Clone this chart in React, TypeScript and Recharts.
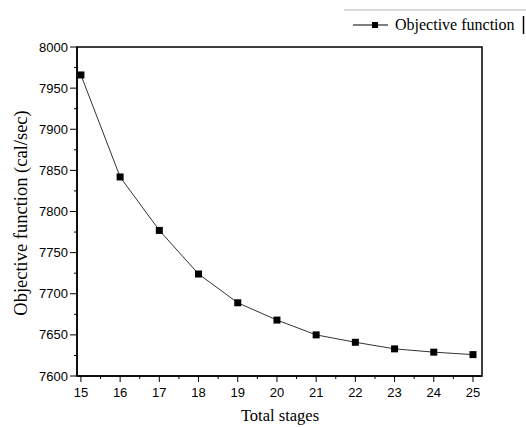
import React from "react";
import { LineChart, Line, XAxis, YAxis, Legend, ReferenceArea } from "recharts";

const stages = [15, 16, 17, 18, 19, 20, 21, 22, 23, 24, 25];
const objective = [7966, 7842, 7777, 7724, 7689, 7668, 7650, 7641, 7633, 7629, 7626];

const xMajorTicks = [15, 16, 17, 18, 19, 20, 21, 22, 23, 24, 25];
const xMinorTicks = [15.5, 16.5, 17.5, 18.5, 19.5, 20.5, 21.5, 22.5, 23.5, 24.5];
const yMajorTicks = [7600, 7650, 7700, 7750, 7800, 7850, 7900, 7950, 8000];
const yMinorTicks = [7625, 7675, 7725, 7775, 7825, 7875, 7925, 7975];
const xDomain = [14.9, 25.23];
const yDomain = [7600, 8000];

const seriesName = "Objective function";
const xTitle = "Total stages";
const yTitle = "Objective function (cal/sec)";

const data = stages.map((s, i) => ({ stage: s, value: objective[i] }));

const SANS = "'Liberation Sans', Arial, sans-serif";
const SERIF = "'Liberation Serif', 'Times New Roman', serif";

const XTick = (props: any) => {
  const { x, y, payload } = props;
  const major = xMajorTicks.includes(payload.value);
  return (
    <g>
      <line x1={x} x2={x} y1={y} y2={y + (major ? 6 : 3)} stroke="#000" strokeWidth={1} />
      {major && (
        <text x={x} y={y + 21} textAnchor="middle" fontFamily={SANS} fontSize={13} fill="#000">
          {payload.value}
        </text>
      )}
    </g>
  );
};

const YTick = (props: any) => {
  const { x, y, payload } = props;
  const major = yMajorTicks.includes(payload.value);
  return (
    <g>
      <line x1={x} x2={x - (major ? 7 : 3)} y1={y} y2={y} stroke="#000" strokeWidth={1} />
      {major && (
        <text x={x - 9} y={y} dy="0.35em" textAnchor="end" fontFamily={SANS} fontSize={13} fill="#000">
          {payload.value}
        </text>
      )}
    </g>
  );
};

const SquareDot = (props: any) => {
  const { cx, cy } = props;
  if (cx == null || cy == null) return null;
  return <rect x={cx - 3.5} y={cy - 3.5} width={7} height={7} fill="#000" />;
};

const LegendContent = () => (
  <svg width={186} height={40} style={{ display: "block" }}>
    <line x1={4} x2={186} y1={10} y2={10} stroke="#cfcfcf" strokeWidth={1.5} />
    <line x1={183.5} x2={183.5} y1={16} y2={34} stroke="#000" strokeWidth={1.5} />
    <line x1={13} x2={48} y1={25} y2={25} stroke="#000" strokeWidth={1} />
    <rect x={32} y={22} width={6} height={6} fill="#000" />
    <text x={55} y={30} fontFamily={SERIF} fontSize={16} fill="#000">
      {seriesName}
    </text>
  </svg>
);

export default function App() {
  return (
    <div style={{ position: "absolute", left: 0, top: 0, width: 526, height: 428, background: "#fff" }}>
      <LineChart
        width={526}
        height={428}
        data={data}
        margin={{ top: 47, right: 44, bottom: 0, left: 0 }}
      >
        <XAxis
          dataKey="stage"
          type="number"
          domain={xDomain}
          ticks={[...xMajorTicks, ...xMinorTicks].sort((a, b) => a - b)}
          interval={0}
          tickSize={0}
          tickMargin={0}
          tickLine={false}
          tick={<XTick />}
          axisLine={{ stroke: "#000", strokeWidth: 1.5 }}
          height={52}
          allowDataOverflow
          label={{
            value: xTitle,
            content: () => (
              <text x={280} y={421} textAnchor="middle" fontFamily={SERIF} fontSize={16.5} fill="#000">
                {xTitle}
              </text>
            ),
          }}
        />
        <YAxis
          type="number"
          domain={yDomain}
          ticks={[...yMajorTicks, ...yMinorTicks].sort((a, b) => a - b)}
          interval={0}
          tickSize={0}
          tickMargin={0}
          tickLine={false}
          tick={<YTick />}
          axisLine={{ stroke: "#000", strokeWidth: 1.5 }}
          width={77}
          allowDataOverflow
          label={{
            value: yTitle,
            content: () => (
              <text
                x={0}
                y={0}
                transform="translate(27, 213) rotate(-90)"
                textAnchor="middle"
                fontFamily={SERIF}
                fontSize={18.5}
                fill="#000"
              >
                {yTitle}
              </text>
            ),
          }}
        />
        <ReferenceArea
          x1={xDomain[0]}
          x2={xDomain[1]}
          y1={yDomain[0]}
          y2={yDomain[1]}
          fill="none"
          fillOpacity={0}
          stroke="#000"
          strokeWidth={1.5}
        />
        <Line
          type="linear"
          dataKey="value"
          name={seriesName}
          stroke="#333"
          strokeWidth={1}
          dot={<SquareDot />}
          activeDot={false}
          isAnimationActive={false}
        />
        <Legend
          layout="vertical"
          align="center"
          verticalAlign="middle"
          content={<LegendContent />}
          wrapperStyle={{ position: "absolute", left: 340, top: 0, width: 186, height: 40 }}
        />
      </LineChart>
    </div>
  );
}
